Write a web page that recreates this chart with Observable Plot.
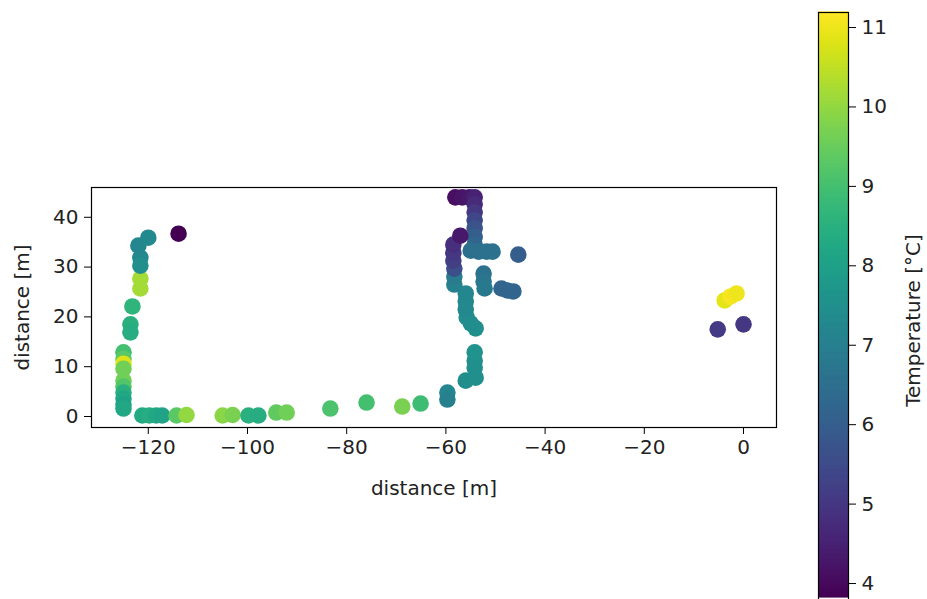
<!DOCTYPE html>
<html>
<head>
<meta charset="utf-8">
<script src="https://cdn.jsdelivr.net/npm/d3@7"></script>
<script src="https://cdn.jsdelivr.net/npm/@observablehq/plot@0.6"></script>
<style>
  html, body { margin: 0; padding: 0; background: #fff; }
  #chart { position: relative; width: 927px; height: 599px; overflow: hidden; background: #fff; }
  #chart svg { position: absolute; left: 0; top: 0; }
</style>
</head>
<body>
<div id="chart"></div>
<script>
// Measurement points: x distance [m], y distance [m], temperature [°C]
const xs = [
  -125, -125, -125, -125, -125, -125, -125, -125, -125, -125,
  -123.6, -123.6, -123.2, -121.6, -121.6, -121.6, -121.6, -122, -120, -113.9,
  -121.2, -119.8, -118.4, -117.2, -114.3, -112.3, -105, -103, -99.8, -97.8, -94.2, -92.1,
  -83.3, -76.0, -68.8, -65.1, -59.7, -59.7,
  -56.0, -54.0, -54.2, -54.2, -54.2, -54.0, -55.0, -55.8, -56.0, -56.0, -56.0,
  -58.3, -58.3, -58.3, -58.5, -58.5, -58.5,
  -58.1, -56.7, -55.2, -54.2, -54.2, -54.2, -54.2, -54.2, -54.2, -54.2, -57.1,
  -55.0, -53.4, -51.8, -50.6,
  -52.4, -52.4, -52.2, -45.4, -48.8, -47.6, -46.4,
  -3.8, -2.6, -1.4, -5.2, 0.0
];
const ys = [
  12.9, 11.6, 10.6, 9.6, 7.2, 6.0, 4.8, 3.6, 2.4, 1.6,
  18.5, 16.9, 22.1, 27.7, 25.7, 31.9, 30.3, 34.3, 35.9, 36.7,
  0.2, 0.2, 0.2, 0.2, 0.2, 0.3, 0.2, 0.3, 0.2, 0.2, 0.8, 0.8,
  1.6, 2.8, 2.0, 2.6, 4.8, 3.4,
  7.2, 7.8, 9.8, 11.2, 12.9, 17.7, 18.7, 19.9, 21.5, 23.1, 24.7,
  26.5, 28.1, 29.7, 31.3, 32.9, 34.5,
  44.0, 44.0, 44.0, 44.0, 42.6, 41.0, 39.4, 37.8, 36.1, 34.5, 36.3,
  33.3, 33.1, 33.1, 33.1,
  28.7, 27.1, 25.7, 32.5, 25.7, 25.3, 25.1,
  23.3, 24.1, 24.7, 17.5, 18.5
];
const temps = [
  9.0, 9.3, 10.8, 9.6, 9.6, 9.2, 8.5, 8.2, 8.0, 8.2,
  8.5, 8.4, 8.6, 10.2, 10.2, 7.3, 7.5, 7.2, 7.3, 3.82,
  8.3, 8.4, 8.2, 8.1, 9.3, 10.0, 9.9, 9.7, 8.5, 8.4, 9.4, 9.6,
  9.1, 9.0, 9.7, 8.9, 7.2, 7.0,
  7.4, 7.5, 7.5, 7.5, 7.6, 7.5, 7.4, 7.4, 7.3, 7.3, 7.2,
  7.0, 6.9, 5.6, 5.2, 5.0, 4.8,
  4.1, 4.2, 4.3, 4.5, 4.7, 5.0, 5.4, 5.7, 6.0, 6.2, 4.3,
  6.5, 6.5, 6.6, 6.6,
  6.6, 6.7, 6.8, 6.0, 6.2, 6.2, 6.2,
  10.9, 11.1, 11.0, 5.1, 5.0
];
const xTicks = [-120, -100, -80, -60, -40, -20, 0];
const yTicks = [0, 10, 20, 30, 40];
const cTicks = [4, 5, 6, 7, 8, 9, 10, 11];
const tempMin = 3.82, tempMax = 11.19;

const points = xs.map((x, i) => ({x, y: ys[i], t: temps[i]}));
const colorOpts = {type: "linear", scheme: "viridis", domain: [tempMin, tempMax]};
const font = "DejaVu Sans, sans-serif";

const main = Plot.plot({
  width: 927, height: 599,
  marginLeft: 91, marginRight: 151, marginTop: 187, marginBottom: 172,
  style: {fontFamily: font, fontSize: "20px", color: "#222", background: "transparent", overflow: "visible"},
  x: {domain: [-131.45, 6.65]},
  y: {domain: [-2.21, 45.98]},
  color: colorOpts,
  marks: [
    Plot.dot(points, {x: "x", y: "y", fill: "t", r: 8.3}),
    Plot.frame({stroke: "#000", strokeWidth: 1.2}),
    Plot.axisX({ticks: xTicks, tickSize: 7, tickPadding: 5, label: "distance [m]", labelAnchor: "center", labelArrow: "none", labelOffset: 67, stroke: "#000", fill: "#222"}),
    Plot.axisY({ticks: yTicks, tickSize: 7, tickPadding: 6, label: "distance [m]", labelAnchor: "center", labelArrow: "none", labelOffset: 77, stroke: "#000", fill: "#222"})
  ]
});

const ramp = d3.range(tempMin, tempMax, 0.01);
const cbar = Plot.plot({
  width: 927, height: 628,
  marginLeft: 818, marginRight: 79, marginTop: 12, marginBottom: 0,
  style: {fontFamily: font, fontSize: "20px", color: "#222", background: "transparent", overflow: "visible"},
  x: {domain: [0, 1], axis: null},
  y: {domain: [3.434, 11.189]},
  color: colorOpts,
  marks: [
    Plot.rect(ramp, {x1: 0, x2: 1, y1: d => d, y2: d => Math.min(d + 0.012, tempMax), fill: d => d, stroke: d => d, strokeWidth: 0.6, shapeRendering: "crispEdges"}),
    Plot.frame({stroke: "#000", strokeWidth: 1.2}),
    Plot.axisY({anchor: "right", ticks: cTicks, tickSize: 7, tickPadding: 6, label: "Temperature [°C]", labelAnchor: "center", labelArrow: "none", labelOffset: 71, stroke: "#000", fill: "#222"})
  ]
});

const root = document.getElementById("chart");
root.appendChild(main);
root.appendChild(cbar);
</script>
</body>
</html>
